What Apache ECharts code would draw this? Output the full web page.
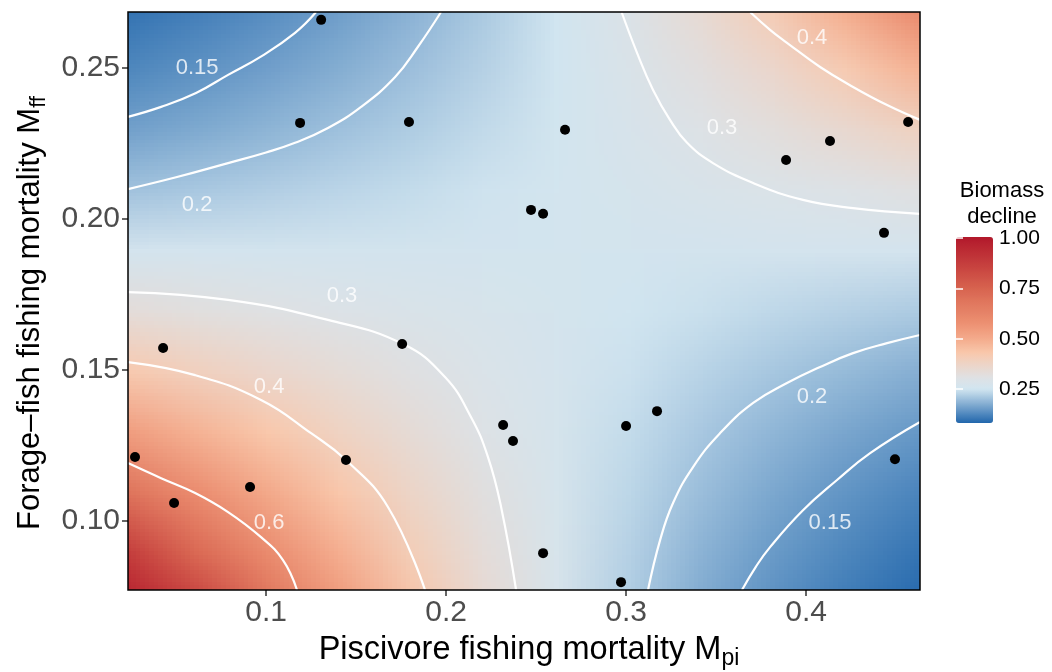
<!DOCTYPE html>
<html><head><meta charset="utf-8">
<script src="https://cdn.jsdelivr.net/npm/echarts@6/dist/echarts.min.js"></script>
<style>html,body{margin:0;padding:0;background:#fff}#c{width:1052px;height:672px}</style>
</head><body><div id="c"></div>
<script>
// ---- axis ranges and tick labels ----
const xRange = [0.0233, 0.4633];
const yRange = [0.0772, 0.2685];
const xTicks = [0.1, 0.2, 0.3, 0.4];
const yTicks = [0.10, 0.15, 0.20, 0.25];
const barTicks = [0.25, 0.50, 0.75, 1.00];
const colorMin = 0.082, colorMax = 1.006;

// ---- biomass decline surface, read at grid nodes (rows: y ascending) ----
const gridX = [0.02, 0.06, 0.10, 0.14, 0.18, 0.22, 0.26, 0.30, 0.34, 0.38, 0.42, 0.46];
const gridY = [0.07, 0.09, 0.11, 0.13, 0.15, 0.17, 0.19, 0.21, 0.23, 0.25, 0.27];
const row007 = [1.131, 0.894, 0.706, 0.558, 0.441, 0.349, 0.276, 0.218, 0.172, 0.136, 0.108, 0.085];
const row009 = [0.885, 0.728, 0.598, 0.492, 0.404, 0.332, 0.273, 0.224, 0.184, 0.152, 0.125, 0.102];
const row011 = [0.693, 0.592, 0.506, 0.433, 0.370, 0.316, 0.270, 0.231, 0.198, 0.169, 0.144, 0.123];
const row013 = [0.542, 0.482, 0.429, 0.381, 0.339, 0.301, 0.268, 0.238, 0.212, 0.188, 0.167, 0.149];
const row015 = [0.424, 0.392, 0.363, 0.335, 0.310, 0.287, 0.265, 0.245, 0.227, 0.210, 0.194, 0.179];
const row017 = [0.332, 0.319, 0.307, 0.295, 0.284, 0.273, 0.263, 0.252, 0.243, 0.233, 0.224, 0.216];
const row019 = [0.261, 0.261, 0.260, 0.260, 0.260, 0.260, 0.260, 0.260, 0.260, 0.261, 0.261, 0.261];
const row021 = [0.204, 0.212, 0.220, 0.229, 0.238, 0.248, 0.257, 0.268, 0.278, 0.290, 0.301, 0.313];
const row023 = [0.159, 0.172, 0.186, 0.202, 0.218, 0.236, 0.255, 0.276, 0.298, 0.323, 0.352, 0.385];
const row025 = [0.125, 0.140, 0.158, 0.177, 0.200, 0.224, 0.252, 0.284, 0.320, 0.363, 0.415, 0.480];
const row027 = [0.098, 0.114, 0.134, 0.156, 0.183, 0.214, 0.250, 0.293, 0.345, 0.410, 0.495, 0.600];
const gridValues = [row007, row009, row011, row013, row015, row017, row019, row021, row023, row025, row027];

// ---- observed points ----
const ptsX = [0.1306, 0.1189, 0.1794, 0.2661, 0.2472, 0.2539, 0.3889, 0.4133, 0.4567, 0.4433, 0.0428, 0.1756,
              0.0272, 0.1444, 0.0911, 0.0489, 0.2317, 0.2372, 0.3000, 0.3172, 0.2539, 0.2972, 0.4494];
const ptsY = [0.2659, 0.2318, 0.2321, 0.2295, 0.2030, 0.2017, 0.2195, 0.2258, 0.2321, 0.1954, 0.1573, 0.1586,
              0.1212, 0.1202, 0.1113, 0.1060, 0.1318, 0.1265, 0.1315, 0.1364, 0.0894, 0.0798, 0.1205];

// ---- contour lines (x, y) ----
const c015TL = [[0.0233,0.2338],[0.0417,0.2371],[0.0611,0.2417],[0.0789,0.2477],[0.0978,0.2540],[0.1161,0.2616],[0.1278,0.2685]];
const c020TL = [[0.0233,0.2099],[0.0500,0.2138],[0.0789,0.2185],[0.1000,0.2220],[0.1161,0.2252],[0.1344,0.2301],[0.1528,0.2371],[0.1717,0.2470],[0.1844,0.2570],[0.1972,0.2685]];
const c030BL = [[0.0233,0.1758],[0.0789,0.1732],[0.1344,0.1666],[0.1761,0.1586],[0.1994,0.1477],[0.2139,0.1344],[0.2233,0.1212],[0.2306,0.1046],[0.2389,0.0772]];
const c040BL = [[0.0233,0.1526],[0.0606,0.1483],[0.0972,0.1401],[0.1250,0.1291],[0.1444,0.1202],[0.1678,0.1046],[0.1883,0.0772]];
const c060BL = [[0.0233,0.1192],[0.0417,0.1142],[0.0606,0.1093],[0.0789,0.1030],[0.0972,0.0947],[0.1094,0.0871],[0.1172,0.0772]];
const c030TR = [[0.2975,0.2685],[0.3061,0.2550],[0.3150,0.2427],[0.3244,0.2328],[0.3339,0.2252],[0.3483,0.2185],[0.3706,0.2119],[0.3983,0.2063],[0.4261,0.2036],[0.4633,0.2017]];
const c040TR = [[0.3689,0.2685],[0.3800,0.2626],[0.3894,0.2583],[0.4078,0.2503],[0.4261,0.2437],[0.4450,0.2377],[0.4633,0.2328]];
const c020BR = [[0.3122,0.0772],[0.3189,0.0937],[0.3261,0.1060],[0.3372,0.1179],[0.3522,0.1291],[0.3706,0.1391],[0.3894,0.1457],[0.4078,0.1510],[0.4261,0.1556],[0.4450,0.1589],[0.4633,0.1616]];
const c015BR = [[0.3644,0.0772],[0.3720,0.0848],[0.3800,0.0914],[0.3983,0.1036],[0.4172,0.1136],[0.4356,0.1225],[0.4633,0.1328]];
const contours = [c015TL, c020TL, c030BL, c040BL, c060BL, c030TR, c040TR, c020BR, c015BR];

// ---- contour labels ----
const labelText = ['0.15', '0.2', '0.3', '0.4', '0.6', '0.4', '0.3', '0.2', '0.15'];
const labelX = [0.0617, 0.0617, 0.1422, 0.1017, 0.1017, 0.4033, 0.3533, 0.4033, 0.4133];
const labelY = [0.2500, 0.2046, 0.1745, 0.1444, 0.0993, 0.2599, 0.2301, 0.1411, 0.0993];

// ---- colour scale: knots ----
const colorKnotValues = [0.082, 0.25, 0.30, 0.36, 0.43, 0.50, 0.58, 0.68, 0.76, 0.88, 1.006];
const colorKnotColors = ['#2166ac', '#d1e5f0', '#dde2e6', '#ead7cd', '#f9c8ac', '#f4ab8c', '#ec8f71', '#e0775e', '#d6604d', '#c43c3c', '#b2182b'];

function hexRgb(h) { return [parseInt(h.slice(1,3),16), parseInt(h.slice(3,5),16), parseInt(h.slice(5,7),16)]; }
const knotRgb = colorKnotColors.map(hexRgb);
function valueColor(v) {
  v = Math.max(colorKnotValues[0], Math.min(colorKnotValues[colorKnotValues.length - 1], v));
  let i = 0;
  while (i < colorKnotValues.length - 2 && v > colorKnotValues[i + 1]) i++;
  const f = (v - colorKnotValues[i]) / (colorKnotValues[i + 1] - colorKnotValues[i]);
  const a = knotRgb[i], b = knotRgb[i + 1];
  return [0, 1, 2].map(k => Math.round(a[k] + (b[k] - a[k]) * f));
}
// evenly spaced colour list for the colour bar
const barColors = [];
for (let s = 0; s <= 60; s++) {
  const c = valueColor(colorMin + (colorMax - colorMin) * s / 60);
  barColors.push('rgb(' + c.join(',') + ')');
}

// raster of the node colours; the browser smooths it when it is drawn
const surf = document.createElement('canvas');
surf.width = gridX.length; surf.height = gridY.length;
const sctx = surf.getContext('2d');
const imgData = sctx.createImageData(surf.width, surf.height);
for (let j = 0; j < gridY.length; j++) {
  for (let i = 0; i < gridX.length; i++) {
    const c = valueColor(gridValues[j][i]);
    const k = ((gridY.length - 1 - j) * surf.width + i) * 4;
    imgData.data[k] = c[0]; imgData.data[k+1] = c[1]; imgData.data[k+2] = c[2]; imgData.data[k+3] = 255;
  }
}
sctx.putImageData(imgData, 0, 0);

const FONT = 'Liberation Sans';
const chart = echarts.init(document.getElementById('c'), null, {renderer: 'canvas'});

const series = [];
series.push({
  type: 'custom', z: 1, silent: true,
  data: [[xRange[0], yRange[0]]],
  renderItem: function (params, api) {
    const p0 = api.coord([xRange[0], yRange[1]]);
    const p1 = api.coord([xRange[1], yRange[0]]);
    const dx = gridX[1] - gridX[0], dy = gridY[1] - gridY[0];
    const sx = (xRange[0] - (gridX[0] - dx / 2)) / dx;
    const sy = ((gridY[gridY.length - 1] + dy / 2) - yRange[1]) / dy;
    return {
      type: 'image',
      style: {
        image: surf, x: p0[0], y: p0[1], width: p1[0] - p0[0], height: p1[1] - p0[1],
        sx: sx, sy: sy, sWidth: (xRange[1] - xRange[0]) / dx, sHeight: (yRange[1] - yRange[0]) / dy
      }
    };
  }
});
contours.forEach(function (c) {
  series.push({
    type: 'line', data: c, smooth: 0.45, showSymbol: false, silent: true, z: 2,
    lineStyle: {color: '#ffffff', width: 2.2, opacity: 1}
  });
});
series.push({
  type: 'scatter', z: 4, silent: true, symbol: 'circle', symbolSize: 10,
  itemStyle: {color: '#000000', opacity: 1},
  data: ptsX.map((x, i) => [x, ptsY[i]])
});
series.push({
  type: 'scatter', z: 5, silent: true, symbolSize: 0,
  data: labelText.map((t, i) => ({value: [labelX[i], labelY[i]], name: t})),
  label: {show: true, position: 'inside', formatter: p => p.name, color: '#ffffff', fontSize: 22, fontFamily: FONT}
});

const option = {
  animation: false,
  textStyle: {fontFamily: FONT},
  grid: [
    {left: 128, top: 12, width: 792, height: 578, show: true, borderColor: '#000000', borderWidth: 1.5, z: 3, outerBoundsMode: 'none', containLabel: false},
    {left: 956, top: 237, width: 37, height: 186, show: false, outerBoundsMode: 'none', containLabel: false}
  ],
  xAxis: [
    {
      type: 'value', gridIndex: 0, min: xRange[0], max: xRange[1],
      splitLine: {show: false}, axisLine: {show: false},
      axisTick: {show: true, customValues: xTicks, length: 6, lineStyle: {color: '#333333', width: 1.5}},
      axisLabel: {customValues: xTicks, formatter: v => v.toFixed(1), color: '#4d4d4d', fontSize: 30, margin: 8, fontFamily: FONT},
      name: '{m|Piscivore fishing mortality M}{s|pi}', nameLocation: 'middle', nameGap: 44,
      nameTextStyle: {padding: [0, 0, 0, 10], rich: {
        m: {fontSize: 32.5, color: '#000', fontFamily: FONT, lineHeight: 32, verticalAlign: 'top'},
        s: {fontSize: 23, color: '#000', fontFamily: FONT, lineHeight: 50, verticalAlign: 'middle'}
      }}
    },
    {type: 'value', gridIndex: 1, min: 0, max: 1, show: false}
  ],
  yAxis: [
    {
      type: 'value', gridIndex: 0, min: yRange[0], max: yRange[1],
      splitLine: {show: false}, axisLine: {show: false},
      axisTick: {show: true, customValues: yTicks, length: 6, lineStyle: {color: '#333333', width: 1.5}},
      axisLabel: {customValues: yTicks, formatter: v => v.toFixed(2), color: '#4d4d4d', fontSize: 30, margin: 8, fontFamily: FONT},
      name: '{m|Forage\u2013fish fishing mortality M}{s|ff}', nameLocation: 'middle', nameGap: 65,
      nameTextStyle: {padding: [0, 24, 0, 0], rich: {
        m: {fontSize: 31, color: '#000', fontFamily: FONT, lineHeight: 31, verticalAlign: 'top'},
        s: {fontSize: 22, color: '#000', fontFamily: FONT, lineHeight: 48, verticalAlign: 'middle'}
      }}
    },
    {
      type: 'value', gridIndex: 1, min: colorMin, max: colorMax, position: 'right', z: 10,
      splitLine: {show: false}, axisLine: {show: false},
      axisTick: {show: true, inside: true, customValues: barTicks, length: 7, lineStyle: {color: '#ffffff', width: 1.5}},
      axisLabel: {customValues: barTicks, formatter: v => v.toFixed(2), color: '#000000', fontSize: 21, margin: 6, fontFamily: FONT}
    },
    {
      type: 'value', gridIndex: 1, min: colorMin, max: colorMax, position: 'left', z: 10,
      splitLine: {show: false}, axisLine: {show: false}, axisLabel: {show: false},
      axisTick: {show: true, inside: true, customValues: barTicks, length: 7, lineStyle: {color: '#ffffff', width: 1.5}}
    }
  ],
  visualMap: {
    type: 'continuous', min: colorMin, max: colorMax, seriesIndex: 0, dimension: 0,
    orient: 'vertical', left: 956, top: 237, itemWidth: 37, itemHeight: 186,
    padding: 0, calculable: false, hoverLink: false, realtime: false,
    inRange: {color: barColors}
  },
  graphic: [{
    type: 'text', x: 1002, y: 178, z: 10,
    style: {text: 'Biomass\ndecline', fill: '#000', font: '22px "Liberation Sans"', textAlign: 'center', textVerticalAlign: 'top', lineHeight: 26}
  }],
  series: series
};
chart.setOption(option);
</script>
</body></html>
